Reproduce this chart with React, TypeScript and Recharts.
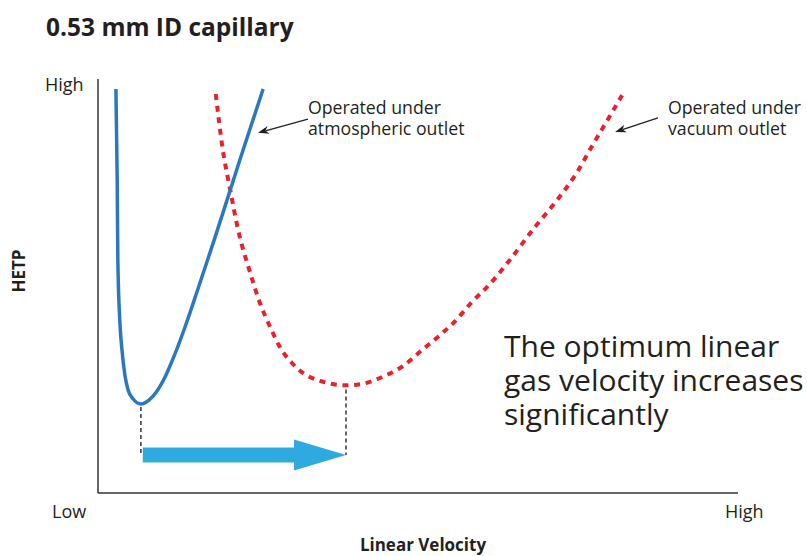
import { LineChart, Line, XAxis, YAxis, ReferenceLine } from 'recharts';

// Van Deemter style curves, arbitrary units (0 = low, 100 = high)
const atmosphericVelocity = [2.8, 3.0, 3.1, 3.4, 3.75, 4.2, 4.7, 5.5, 6.7, 8.0, 9.2, 10.5, 11.9, 13.6, 15.6, 18.3, 22.2, 25.8];
const atmosphericHetp = [97.6, 75.6, 56.3, 41.8, 34.5, 28.5, 24.9, 22.7, 21.5, 22.5, 24.6, 28.1, 33.1, 40.1, 49.2, 61.8, 80.6, 97.6];

const vacuumVelocity = [18.4, 19.5, 20.6, 21.9, 23.8, 25.3, 26.9, 28.4, 30.3, 32.0, 34.7, 38.75, 41.4, 44.8, 47.7, 50.6, 53.1, 55.8, 58.3, 61.25, 64.1, 68.3, 71.6, 74.7, 77.3, 80.0, 81.9];
const vacuumHetp = [96.4, 82.9, 73.7, 63.5, 53.1, 45.9, 40.1, 35.3, 31.4, 29.0, 27.1, 26.0, 26.4, 28.3, 30.7, 34.5, 37.7, 41.5, 45.9, 50.5, 55.8, 64.3, 70.5, 77.1, 84.1, 91.1, 96.1];

const arrowLevel = 9.2;
// annotation pointers: [text end, tip]
const atmosphericPointer = [{ x: 32.8, y: 90.3 }, { x: 25.0, y: 87.0 }];
const vacuumPointer = [{ x: 87.5, y: 90.6 }, { x: 80.8, y: 87.2 }];

const headline = ['The optimum linear', 'gas velocity increases', 'significantly'];

const atmosphericData = atmosphericVelocity.map((x, i) => ({ x, y: atmosphericHetp[i] }));
const vacuumData = vacuumVelocity.map((x, i) => ({ x, y: vacuumHetp[i] }));

const minimum = (data: { x: number; y: number }[]) =>
  data.reduce((best, p) => (p.y < best.y ? p : best), data[0]);

const optAtm = minimum(atmosphericData);
const optVac = minimum(vacuumData);

const FONT = "'Open Sans', sans-serif";
const INK = '#231f20';

const Pointer = (props: any) => {
  const { x1, y1, x2, y2 } = props;
  const a = Math.atan2(y2 - y1, x2 - x1);
  const len = 11;
  const half = 4;
  const bx = x2 - len * Math.cos(a);
  const by = y2 - len * Math.sin(a);
  const nx = x2 - len * 0.7 * Math.cos(a);
  const ny = y2 - len * 0.7 * Math.sin(a);
  const px = -Math.sin(a) * half;
  const py = Math.cos(a) * half;
  return (
    <g>
      <line x1={x1} y1={y1} x2={nx} y2={ny} stroke={INK} strokeWidth={1.3} />
      <polygon points={`${x2},${y2} ${bx + px},${by + py} ${nx},${ny} ${bx - px},${by - py}`} fill={INK} />
    </g>
  );
};

const BigArrow = (props: any) => {
  const { x1, y1, x2 } = props;
  const body = 7.5;
  const head = 15.5;
  const headLen = 52;
  const hx = x2 - headLen;
  return (
    <polygon
      points={`${x1},${y1 - body} ${hx},${y1 - body} ${hx},${y1 - head} ${x2},${y1} ${hx},${y1 + head} ${hx},${y1 + body} ${x1},${y1 + body}`}
      fill="#2eaae1"
    />
  );
};

export default function App() {
  return (
    <div style={{ position: 'absolute', left: 0, top: 0, width: 807, height: 556, background: '#fff' }}>
      <LineChart width={807} height={556} margin={{ top: 79, right: 69, bottom: 63, left: 98 }}>
        <XAxis type="number" dataKey="x" domain={[0, 100]} allowDataOverflow hide />
        <YAxis type="number" dataKey="y" domain={[0, 100]} allowDataOverflow hide />
        <ReferenceLine x={0} stroke="#333" strokeWidth={1.5} ifOverflow="visible" />
        <ReferenceLine y={0} stroke="#333" strokeWidth={1.5} ifOverflow="visible" />
        <ReferenceLine
          segment={[{ x: optAtm.x, y: optAtm.y - 0.7 }, { x: optAtm.x, y: arrowLevel }]}
          stroke="#333"
          strokeWidth={1.5}
          strokeDasharray="4 3"
        />
        <ReferenceLine
          segment={[{ x: optVac.x, y: optVac.y - 1.0 }, { x: optVac.x, y: arrowLevel }]}
          stroke="#333"
          strokeWidth={1.5}
          strokeDasharray="4 3"
        />
        <ReferenceLine
          segment={[{ x: optAtm.x + 0.3, y: arrowLevel }, { x: optVac.x, y: arrowLevel }]}
          shape={BigArrow}
        />
        <Line
          data={vacuumData}
          dataKey="y"
          type="monotone"
          stroke="#e8212b"
          strokeWidth={4}
          strokeDasharray="6 5.7"
          dot={false}
          isAnimationActive={false}
        />
        <Line
          data={atmosphericData}
          dataKey="y"
          type="monotone"
          stroke="#2a78c0"
          strokeWidth={3.5}
          dot={false}
          isAnimationActive={false}
        />
        <ReferenceLine segment={atmosphericPointer} shape={Pointer} />
        <ReferenceLine segment={vacuumPointer} shape={Pointer} />
      </LineChart>
      <svg
        width={807}
        height={556}
        style={{ position: 'absolute', left: 0, top: 0, pointerEvents: 'none' }}
        fontFamily={FONT}
        fill={INK}
      >
        <text x={46} y={36} fontSize={24.5} fontWeight={700}>0.53 mm ID capillary</text>
        <text x={45} y={91} fontSize={18}>High</text>
        <text x={52} y={518} fontSize={18}>Low</text>
        <text x={725} y={518} fontSize={18}>High</text>
        <text x={423} y={551} fontSize={17} fontWeight={700} textAnchor="middle">Linear Velocity</text>
        <text x={25} y={271} fontSize={17} fontWeight={700} textAnchor="middle" transform="rotate(-90 25 271)">HETP</text>
        <text x={308} y={114} fontSize={17.7}>Operated under</text>
        <text x={308} y={135} fontSize={17.7}>atmospheric outlet</text>
        <text x={668} y={114} fontSize={17.7}>Operated under</text>
        <text x={668} y={135} fontSize={17.7}>vacuum outlet</text>
        {headline.map((line, i) => (
          <text key={line} x={504} y={357 + i * 34} fontSize={30}>{line}</text>
        ))}
      </svg>
    </div>
  );
}
